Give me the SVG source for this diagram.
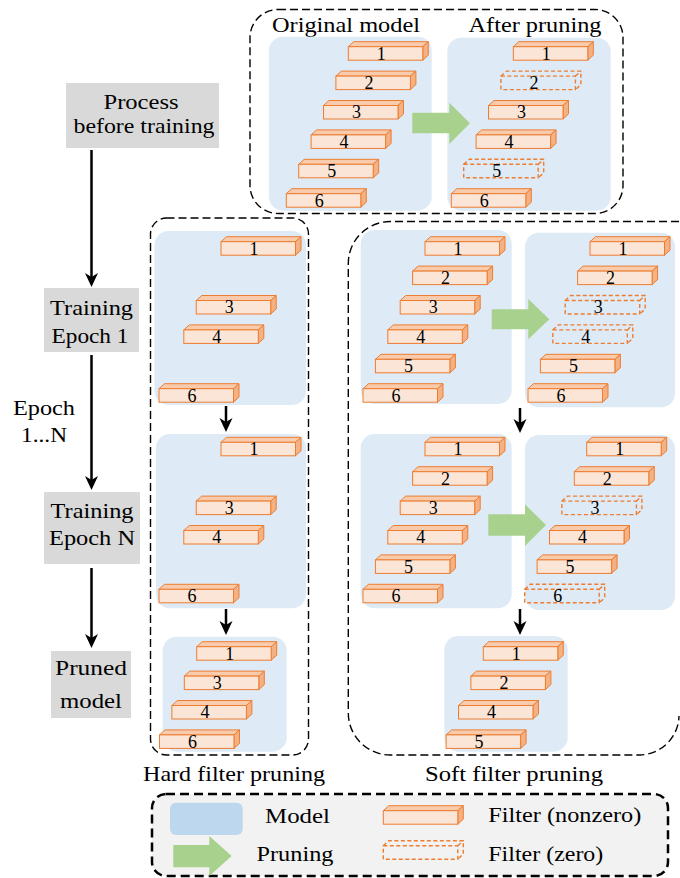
<svg xmlns="http://www.w3.org/2000/svg" width="680" height="878" viewBox="0 0 680 878" font-family="Liberation Serif, Times New Roman, serif">
<style>
text{fill:#000}
.lbl{font-size:22px}
.num{font-size:18px;text-anchor:middle}
.mid{text-anchor:middle}
.model{fill:#deebf7}
.gbox{fill:#d9d9d9}
.dash{fill:none;stroke:#000;stroke-width:1.4;stroke-dasharray:8 4}
.prune{fill:#a9d18e}
.conn{stroke:#000;stroke-width:2.5;fill:none;marker-end:url(#ah)}
.ff{fill:#fbe5d6;stroke:#ed7d31;stroke-width:1}
.ft{fill:#f8cbad;stroke:#ed7d31;stroke-width:1}
.fs{fill:#f4b183;stroke:#ed7d31;stroke-width:1}
.fz{fill:none;stroke:#ed7d31;stroke-width:1.4;stroke-dasharray:4 2.5}
</style>
<defs>
<marker id="ah" viewBox="0 0 14 14" refX="10" refY="7" markerWidth="14" markerHeight="14" orient="auto" markerUnits="userSpaceOnUse">
<path d="M0,0.5 L14,7 L0,13.5 L4,7 Z" fill="#000"/>
</marker>
<g id="f">
<polygon class="ft" points="0,0 5.5,-5 80,-5 74.5,0"/>
<polygon class="fs" points="74.5,0 80,-5 80,8.5 74.5,13.5"/>
<rect class="ff" x="0" y="0" width="74.5" height="13.5"/>
</g>
<path id="fzero" class="fz" d="M0,0 H74.5 V13.5 H0 Z M0,0 L5.5,-5 H80 V8.5 L74.5,13.5 M74.5,0 L80,-5"/>
</defs>

<!-- left column process flow -->
<g id="process">
<rect class="gbox" x="66" y="83" width="153" height="65"/>
<text class="lbl mid" x="141" y="109" textLength="75" lengthAdjust="spacingAndGlyphs">Process</text>
<text class="lbl mid" x="144" y="133" textLength="141" lengthAdjust="spacingAndGlyphs">before training</text>
</g>
<g id="epoch1">
<rect class="gbox" x="44" y="288" width="95" height="64"/>
<text class="lbl mid" x="91.5" y="315" textLength="83" lengthAdjust="spacingAndGlyphs">Training</text>
<text class="lbl mid" x="90" y="343" textLength="77" lengthAdjust="spacingAndGlyphs">Epoch 1</text>
</g>
<g id="epochN">
<rect class="gbox" x="44" y="492" width="96" height="72"/>
<text class="lbl mid" x="92" y="518" textLength="83" lengthAdjust="spacingAndGlyphs">Training</text>
<text class="lbl mid" x="92" y="545" textLength="86" lengthAdjust="spacingAndGlyphs">Epoch N</text>
</g>
<g id="pruned">
<rect class="gbox" x="51" y="651" width="80" height="67"/>
<text class="lbl mid" x="91" y="675" textLength="72" lengthAdjust="spacingAndGlyphs">Pruned</text>
<text class="lbl mid" x="91" y="708" textLength="62" lengthAdjust="spacingAndGlyphs">model</text>
</g>
<g id="epochlabel">
<text class="lbl mid" x="44" y="415" textLength="62" lengthAdjust="spacingAndGlyphs">Epoch</text>
<text class="lbl mid" x="44" y="442" textLength="46" lengthAdjust="spacingAndGlyphs">1...N</text>
</g>

<!-- top: process before training -->
<g id="before-training">
<rect class="dash" x="250" y="9.5" width="373" height="204" rx="28"/>
<text class="lbl mid" x="346" y="32" textLength="148" lengthAdjust="spacingAndGlyphs">Original model</text>
<text class="lbl mid" x="535" y="32" textLength="133" lengthAdjust="spacingAndGlyphs">After pruning</text>
</g>
<g id="original-model">
<rect class="model" x="269" y="36.7" width="162.7" height="174" rx="14"/>
<use href="#f" x="348.3" y="46.7"/><text class="num" x="381.3" y="59.5">1</text>
<use href="#f" x="335.9" y="76.1"/><text class="num" x="368.9" y="88.9">2</text>
<use href="#f" x="323.5" y="105.5"/><text class="num" x="356.5" y="118.3">3</text>
<use href="#f" x="311.1" y="134.9"/><text class="num" x="344.1" y="147.7">4</text>
<use href="#f" x="298.7" y="164.3"/><text class="num" x="331.7" y="177.1">5</text>
<use href="#f" x="286.3" y="193.7"/><text class="num" x="319.3" y="206.5">6</text>
</g>
<g id="after-pruning">
<rect class="model" x="447.3" y="37.7" width="163.4" height="173" rx="14"/>
<use href="#f" x="513.3" y="46.7"/><text class="num" x="546.3" y="59.5">1</text>
<use href="#fzero" x="500.9" y="76.1"/><text class="num" x="533.9" y="88.9">2</text>
<use href="#f" x="488.5" y="105.5"/><text class="num" x="521.5" y="118.3">3</text>
<use href="#f" x="476.1" y="134.9"/><text class="num" x="509.1" y="147.7">4</text>
<use href="#fzero" x="463.7" y="164.3"/><text class="num" x="496.7" y="177.1">5</text>
<use href="#f" x="451.3" y="193.7"/><text class="num" x="484.3" y="206.5">6</text>
</g>
<g id="prune-top"><polygon class="prune" points="412.3,112.7 449.3,112.7 449.3,102.7 470,123.3 449.3,144 449.3,133.3 412.3,133.3"/></g>

<!-- hard filter pruning -->
<g id="hard">
<rect class="dash" x="150.5" y="218" width="158" height="537" rx="16"/>
<text class="lbl mid" x="234" y="781" textLength="182" lengthAdjust="spacingAndGlyphs">Hard filter pruning</text>
</g>
<g id="hard-1">
<rect class="model" x="154.5" y="231" width="151.5" height="174" rx="14"/>
<use href="#f" x="221" y="241.7"/><text class="num" x="254" y="254.5">1</text>
<use href="#f" x="196.2" y="300.5"/><text class="num" x="229.2" y="313.3">3</text>
<use href="#f" x="183.8" y="329.9"/><text class="num" x="216.8" y="342.7">4</text>
<use href="#f" x="159" y="388.7"/><text class="num" x="192" y="401.5">6</text>
</g>
<g id="hard-2">
<rect class="model" x="156" y="434" width="150" height="174.3" rx="14"/>
<use href="#f" x="221" y="442.3"/><text class="num" x="254" y="455.1">1</text>
<use href="#f" x="196.2" y="501.1"/><text class="num" x="229.2" y="513.9">3</text>
<use href="#f" x="183.8" y="530.5"/><text class="num" x="216.8" y="543.3">4</text>
<use href="#f" x="159" y="589.3"/><text class="num" x="192" y="602.1">6</text>
</g>
<g id="hard-3">
<rect class="model" x="162.7" y="636.7" width="124" height="115" rx="14"/>
<use href="#f" x="196.7" y="646.7"/><text class="num" x="229.7" y="659.5">1</text>
<use href="#f" x="184.3" y="676.1"/><text class="num" x="217.3" y="688.9">3</text>
<use href="#f" x="171.9" y="705.5"/><text class="num" x="204.9" y="718.3">4</text>
<use href="#f" x="159.5" y="734.9"/><text class="num" x="192.5" y="747.7">6</text>
</g>

<!-- soft filter pruning -->
<g id="soft">
<path class="dash" d="M679,221.5 H390 A42,42 0 0 0 348.3,263.5 V713 A42,42 0 0 0 390,755 H640 A40,40 0 0 0 679,716"/>
<text class="lbl mid" x="514" y="781" textLength="178" lengthAdjust="spacingAndGlyphs">Soft filter pruning</text>
</g>
<g id="soft-a">
<rect class="model" x="360.7" y="230" width="151" height="174" rx="14"/>
<use href="#f" x="425" y="241.7"/><text class="num" x="458" y="254.5">1</text>
<use href="#f" x="412.6" y="271.1"/><text class="num" x="445.6" y="283.9">2</text>
<use href="#f" x="400.2" y="300.5"/><text class="num" x="433.2" y="313.3">3</text>
<use href="#f" x="387.8" y="329.9"/><text class="num" x="420.8" y="342.7">4</text>
<use href="#f" x="375.4" y="359.3"/><text class="num" x="408.4" y="372.1">5</text>
<use href="#f" x="363" y="388.7"/><text class="num" x="396" y="401.5">6</text>
</g>
<g id="soft-b">
<rect class="model" x="525" y="232.7" width="150" height="174.6" rx="14"/>
<use href="#f" x="590" y="241.7"/><text class="num" x="623" y="254.5">1</text>
<use href="#f" x="577.6" y="271.1"/><text class="num" x="610.6" y="283.9">2</text>
<use href="#fzero" x="565.2" y="300.5"/><text class="num" x="598.2" y="313.3">3</text>
<use href="#fzero" x="552.8" y="329.9"/><text class="num" x="585.8" y="342.7">4</text>
<use href="#f" x="540.4" y="359.3"/><text class="num" x="573.4" y="372.1">5</text>
<use href="#f" x="528" y="388.7"/><text class="num" x="561" y="401.5">6</text>
</g>
<g id="prune-soft-1"><polygon class="prune" points="491.7,309.3 528.3,309.3 528.3,299 549.3,319.3 528.3,339.3 528.3,329.3 491.7,329.3"/></g>
<g id="soft-c">
<rect class="model" x="360.7" y="434" width="151" height="174.3" rx="14"/>
<use href="#f" x="425" y="442.3"/><text class="num" x="458" y="455.1">1</text>
<use href="#f" x="412.6" y="471.7"/><text class="num" x="445.6" y="484.5">2</text>
<use href="#f" x="400.2" y="501.1"/><text class="num" x="433.2" y="513.9">3</text>
<use href="#f" x="387.8" y="530.5"/><text class="num" x="420.8" y="543.3">4</text>
<use href="#f" x="375.4" y="559.9"/><text class="num" x="408.4" y="572.7">5</text>
<use href="#f" x="363" y="589.3"/><text class="num" x="396" y="602.1">6</text>
</g>
<g id="soft-d">
<rect class="model" x="525" y="435" width="150" height="175" rx="14"/>
<use href="#f" x="586.7" y="442.3"/><text class="num" x="619.7" y="455.1">1</text>
<use href="#f" x="574.3" y="471.7"/><text class="num" x="607.3" y="484.5">2</text>
<use href="#fzero" x="561.9" y="501.1"/><text class="num" x="594.9" y="513.9">3</text>
<use href="#f" x="549.5" y="530.5"/><text class="num" x="582.5" y="543.3">4</text>
<use href="#f" x="537.1" y="559.9"/><text class="num" x="570.1" y="572.7">5</text>
<use href="#fzero" x="524.7" y="589.3"/><text class="num" x="557.7" y="602.1">6</text>
</g>
<g id="prune-soft-2"><polygon class="prune" points="488.3,514.3 525,514.3 525,504.3 546,525.1 525,546 525,535.7 488.3,535.7"/></g>
<g id="soft-e">
<rect class="model" x="444.3" y="636" width="123.4" height="115.7" rx="14"/>
<use href="#f" x="483.3" y="646.7"/><text class="num" x="516.3" y="659.5">1</text>
<use href="#f" x="470.9" y="676.1"/><text class="num" x="503.9" y="688.9">2</text>
<use href="#f" x="458.5" y="705.5"/><text class="num" x="491.5" y="718.3">4</text>
<use href="#f" x="446.1" y="734.9"/><text class="num" x="479.1" y="747.7">5</text>
</g>

<!-- connectors -->
<g id="connectors">
<line class="conn" x1="91.5" y1="150" x2="91.5" y2="283"/>
<line class="conn" x1="91.5" y1="355" x2="91.5" y2="486"/>
<line class="conn" x1="91.5" y1="568" x2="91.5" y2="644"/>
<line class="conn" x1="226" y1="406" x2="226" y2="428"/>
<line class="conn" x1="226" y1="609" x2="226" y2="631"/>
<line class="conn" x1="520" y1="408" x2="520" y2="429"/>
<line class="conn" x1="520" y1="609" x2="520" y2="631"/>
</g>

<!-- legend -->
<g id="legend">
<rect x="152" y="794" width="516" height="82" rx="14" fill="#f2f2f2" stroke="#000" stroke-width="2.5" stroke-dasharray="9 5"/>
<rect x="170" y="802.7" width="72.7" height="32.3" rx="6" fill="#bdd7ee"/>
<text class="lbl mid" x="297.5" y="823" textLength="65" lengthAdjust="spacingAndGlyphs">Model</text>
<use href="#f" x="383.3" y="810.7"/>
<text class="lbl" x="488.3" y="822" textLength="153" lengthAdjust="spacingAndGlyphs">Filter (nonzero)</text>
<polygon class="prune" points="173.3,845 209.3,845 209.3,836 231.7,856 209.3,876 209.3,867.3 173.3,867.3"/>
<text class="lbl mid" x="295" y="861" textLength="77" lengthAdjust="spacingAndGlyphs">Pruning</text>
<use href="#fzero" x="383.3" y="845.7"/>
<text class="lbl" x="488.3" y="861" textLength="115" lengthAdjust="spacingAndGlyphs">Filter (zero)</text>
</g>
</svg>
